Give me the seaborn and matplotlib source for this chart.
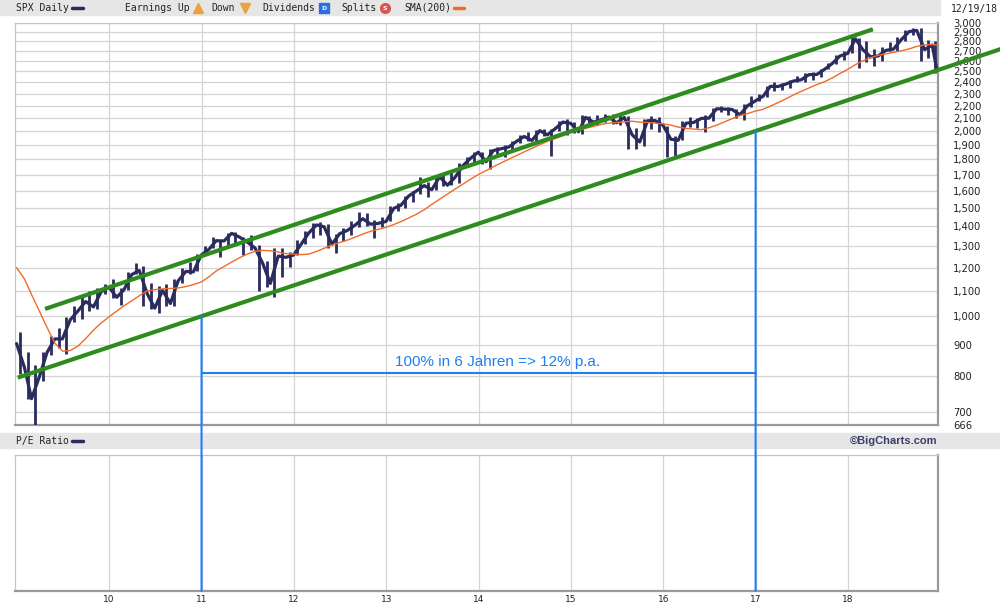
import numpy as np
import pandas as pd
import matplotlib
matplotlib.use("Agg")
import matplotlib.pyplot as plt
import seaborn as sns
from matplotlib.lines import Line2D
from matplotlib.patches import Rectangle, ConnectionPatch
from matplotlib.ticker import FixedLocator, FuncFormatter, NullLocator

# SPX month-end closes, Dec 2008 .. Dec 2018 (last one = 12/19/18)
spx_close = [903,
             826, 735, 798, 873, 919, 919, 987, 1021, 1057, 1036, 1096, 1115,
             1074, 1104, 1169, 1187, 1089, 1031, 1102, 1049, 1141, 1183, 1181, 1258,
             1286, 1327, 1326, 1364, 1345, 1321, 1292, 1219, 1131, 1253, 1247, 1258,
             1312, 1366, 1408, 1398, 1310, 1362, 1379, 1407, 1441, 1412, 1416, 1426,
             1498, 1515, 1569, 1598, 1631, 1606, 1686, 1633, 1682, 1757, 1806, 1848,
             1783, 1859, 1872, 1884, 1924, 1960, 1931, 2003, 1972, 2018, 2068, 2059,
             1995, 2105, 2068, 2086, 2107, 2063, 2104, 1972, 1920, 2079, 2080, 2044,
             1940, 1932, 2060, 2065, 2097, 2099, 2174, 2171, 2168, 2126, 2199, 2239,
             2279, 2364, 2363, 2384, 2412, 2423, 2470, 2472, 2519, 2575, 2648, 2674,
             2824, 2714, 2641, 2648, 2705, 2718, 2816, 2902, 2914, 2712, 2760, 2507]

# monthly highs / lows, Jan 2009 .. Dec 2018
spx_high = [943, 876, 833, 876, 930, 956, 996, 1039, 1080, 1101, 1113, 1130,
            1150, 1112, 1180, 1220, 1206, 1131, 1120, 1130, 1150, 1196, 1227, 1263,
            1303, 1344, 1332, 1365, 1371, 1345, 1357, 1307, 1230, 1293, 1292, 1270,
            1333, 1378, 1419, 1422, 1415, 1363, 1392, 1426, 1475, 1470, 1434, 1448,
            1509, 1530, 1570, 1598, 1687, 1654, 1698, 1709, 1730, 1775, 1813, 1849,
            1850, 1867, 1884, 1897, 1924, 1968, 1992, 2005, 2019, 2018, 2076, 2093,
            2072, 2120, 2118, 2126, 2135, 2130, 2133, 2113, 2021, 2094, 2117, 2105,
            2039, 1962, 2073, 2111, 2100, 2120, 2178, 2194, 2188, 2169, 2214, 2278,
            2301, 2371, 2401, 2398, 2419, 2454, 2484, 2491, 2520, 2582, 2657, 2695,
            2873, 2835, 2801, 2718, 2742, 2791, 2848, 2916, 2941, 2940, 2815, 2800]
spx_low = [805, 735, 667, 784, 866, 888, 869, 979, 991, 1020, 1029, 1086,
           1071, 1045, 1105, 1170, 1041, 1028, 1011, 1040, 1040, 1131, 1173, 1186,
           1257, 1289, 1249, 1295, 1311, 1258, 1283, 1101, 1114, 1075, 1159, 1202,
           1259, 1312, 1340, 1358, 1292, 1267, 1325, 1354, 1397, 1403, 1343, 1398,
           1426, 1485, 1501, 1536, 1581, 1560, 1604, 1627, 1633, 1646, 1746, 1768,
           1770, 1738, 1834, 1814, 1859, 1916, 1930, 1904, 1964, 1821, 2001, 1973,
           1988, 1981, 2040, 2048, 2068, 2056, 2044, 1867, 1872, 1894, 2019, 1993,
           1812, 1810, 1937, 2034, 2025, 1992, 2075, 2148, 2120, 2097, 2084, 2187,
           2234, 2271, 2322, 2328, 2353, 2405, 2407, 2417, 2446, 2520, 2566, 2605,
           2683, 2533, 2586, 2553, 2595, 2699, 2699, 2803, 2864, 2604, 2631, 2488]

# 200-day simple moving average, month ends Dec 2008 .. Dec 2018
sma200 = [1200,
          1150, 1085, 1020, 960, 905, 878, 880, 895, 920, 950, 975, 998,
          1020, 1040, 1060, 1080, 1100, 1105, 1108, 1110, 1112, 1118, 1126, 1137,
          1160, 1185, 1205, 1225, 1245, 1262, 1275, 1280, 1278, 1272, 1265, 1262,
          1260, 1262, 1275, 1290, 1305, 1318, 1330, 1345, 1360, 1375, 1385, 1395,
          1410, 1425, 1445, 1465, 1490, 1520, 1550, 1580, 1610, 1640, 1670, 1700,
          1725, 1750, 1775, 1800, 1825, 1850, 1875, 1900, 1925, 1945, 1965, 1990,
          2005, 2020, 2035, 2050, 2060, 2065, 2070, 2075, 2068, 2065, 2060, 2055,
          2045, 2030, 2020, 2015, 2010, 2025, 2045, 2070, 2095, 2120, 2135, 2155,
          2170, 2195, 2225, 2255, 2290, 2320, 2350, 2380, 2405, 2440, 2480, 2520,
          2565, 2600, 2630, 2655, 2670, 2685, 2700, 2720, 2745, 2760, 2765, 2760]

# trend channel end points (year, level) and the 100%-in-6-years marks
upper_x = [2009.305, 2018.27]
upper_y = [1028, 2927]
lower_x = [2009.01, 2019.66]
lower_y = [795, 2720]
mark_x = [2011.0, 2017.0]
mark_y = [1000, 2000]
mark_level = 810

y_ticks = [666] + list(range(700, 3001, 100))
year_ticks = list(range(2010, 2019))


def dec_year(d):
    days = 366 if d.is_leap_year else 365
    return d.year + (d.dayofyear - 1) / days


close_dates = [pd.Timestamp("2008-12-31")] + list(pd.date_range("2009-01-31", "2018-11-30", freq="ME")) \
    + [pd.Timestamp("2018-12-19")]
mid_dates = [d + pd.Timedelta(days=14) for d in pd.date_range("2009-01-01", "2018-12-01", freq="MS")]
mid_dates[-1] = pd.Timestamp("2018-12-10")

price = pd.DataFrame({"x": [dec_year(d) for d in close_dates], "close": spx_close, "sma": sma200})
bars = pd.DataFrame({"x": [dec_year(d) for d in mid_dates], "high": spx_high, "low": spx_low})

sns.set_theme(style="white")
plt.rcParams["font.family"] = ["DejaVu Sans"]

navy = "#2b2c5e"
orange = "#f26a2a"
green = "#2e8b1e"
blue = "#1f7ff0"
grid_c = "#d4d4d4"

fig = plt.figure(figsize=(10, 6.08), dpi=100)
ax = fig.add_axes([0.015, 0.301, 0.923, 0.6617])
ax2 = fig.add_axes([0.015, 0.028, 0.923, 0.2237], sharex=ax)

# header bands
fig.add_artist(Rectangle((0, 1 - 15 / 608), 0.94, 15 / 608, transform=fig.transFigure,
                         color="#e6e6e6", zorder=-1))
fig.add_artist(Rectangle((0, 1 - 448 / 608), 1.0, 15 / 608, transform=fig.transFigure,
                         color="#e6e6e6", zorder=-1))

# price bars + close line + SMA
ax.vlines(bars["x"], bars["low"], bars["high"], color=navy, lw=2.0, zorder=3)
sns.lineplot(data=price, x="x", y="close", ax=ax, color=navy, lw=2.3, zorder=3)
sns.lineplot(data=price, x="x", y="sma", ax=ax, color=orange, lw=1.0, zorder=4)

# trend channel
ax.plot(upper_x, upper_y, color=green, lw=3, solid_capstyle="butt", zorder=5)
ax.plot(lower_x, lower_y, color=green, lw=3, solid_capstyle="butt", zorder=5, clip_on=False)

# 100% in 6 years marks
ax.plot(mark_x, [mark_level, mark_level], color=blue, lw=1.5, zorder=6)
for mx, my in zip(mark_x, mark_y):
    con = ConnectionPatch(xyA=(mx, my), coordsA=ax.transData, xyB=(mx, 0), coordsB=ax2.transData,
                          color=blue, lw=1.5, zorder=6)
    fig.add_artist(con)
ax.text(2013.10, 843, "100% in 6 Jahren => 12% p.a.", color=blue, fontsize=11,
        family="Liberation Sans", va="center", ha="left", zorder=7)

# axes styling
ax.set_yscale("log")
ax.set_ylim(666, 3000)
ax.set_xlim(2008.98, 2018.975)
ax.yaxis.set_major_locator(FixedLocator(y_ticks))
ax.yaxis.set_minor_locator(NullLocator())
ax.yaxis.set_major_formatter(FuncFormatter(lambda v, p: f"{v:,.0f}"))
ax.yaxis.tick_right()
ax.tick_params(axis="y", length=0, pad=11, labelsize=7.2, labelcolor="#222222")
ax.set_xticks(year_ticks)
ax.xaxis.set_major_formatter(FuncFormatter(lambda v, p: f"{int(round(v)) % 100}"))
ax.tick_params(axis="x", length=0, labelbottom=False)
ax.set_xlabel("")
ax.set_ylabel("")
ax.grid(True, color=grid_c, lw=0.9)
ax.set_axisbelow(True)

ax2.set_ylim(0, 1)
ax2.set_yticks([])
ax2.tick_params(axis="x", length=0, pad=3, labelsize=6.5, labelcolor="#222222")
ax2.grid(True, axis="x", color=grid_c, lw=0.9)
ax2.set_axisbelow(True)

for a in (ax, ax2):
    a.set_facecolor("white")
    a.spines["left"].set_color("#c4c4c4")
    a.spines["top"].set_color("#c4c4c4")
    a.spines["left"].set_linewidth(0.9)
    a.spines["top"].set_linewidth(0.9)
    a.spines["right"].set_color("#9a9a9a")
    a.spines["bottom"].set_color("#9a9a9a")
    a.spines["right"].set_linewidth(1.6)
    a.spines["bottom"].set_linewidth(1.6)

# header legend
hy = 1 - 8 / 608
mono = dict(family="DejaVu Sans Mono", fontsize=7, color="#222222", va="center", ha="left")
fig.text(0.016, hy, "SPX Daily", **mono)
fig.add_artist(Line2D([0.072, 0.083], [hy, hy], color=navy, lw=2.5, transform=fig.transFigure))
fig.text(0.125, hy, "Earnings Up", **mono)
fig.add_artist(Line2D([0.198], [hy], marker="^", ms=7, color="#e8a33d", transform=fig.transFigure))
fig.text(0.211, hy, "Down", **mono)
fig.add_artist(Line2D([0.245], [hy], marker="v", ms=7, color="#e8a33d", transform=fig.transFigure))
fig.text(0.262, hy, "Dividends", **mono)
fig.add_artist(Line2D([0.324], [hy], marker="s", ms=7, color="#2d6fe0", transform=fig.transFigure))
fig.text(0.324, hy, "D", fontsize=4.5, color="white", ha="center", va="center", weight="bold")
fig.text(0.341, hy, "Splits", **mono)
fig.add_artist(Line2D([0.385], [hy], marker="o", ms=7, color="#d9534f", transform=fig.transFigure))
fig.text(0.385, hy, "S", fontsize=4.5, color="white", ha="center", va="center", weight="bold")
fig.text(0.404, hy, "SMA(200)", **mono)
fig.add_artist(Line2D([0.454, 0.464], [hy, hy], color=orange, lw=2.5, transform=fig.transFigure))
fig.text(0.998, 1 - 9 / 608, "12/19/18", family="DejaVu Sans Mono", fontsize=7,
         color="#222222", ha="right", va="center")

py = 1 - 441 / 608
fig.text(0.016, py, "P/E Ratio", **mono)
fig.add_artist(Line2D([0.072, 0.083], [py, py], color=navy, lw=2.5, transform=fig.transFigure))
fig.text(0.938, py, "\u00a9BigCharts.com", family="Liberation Sans", weight="bold",
         fontsize=8, color="#3b3d6b", ha="right", va="center")

fig.savefig("out.png", dpi=100, facecolor="white")
